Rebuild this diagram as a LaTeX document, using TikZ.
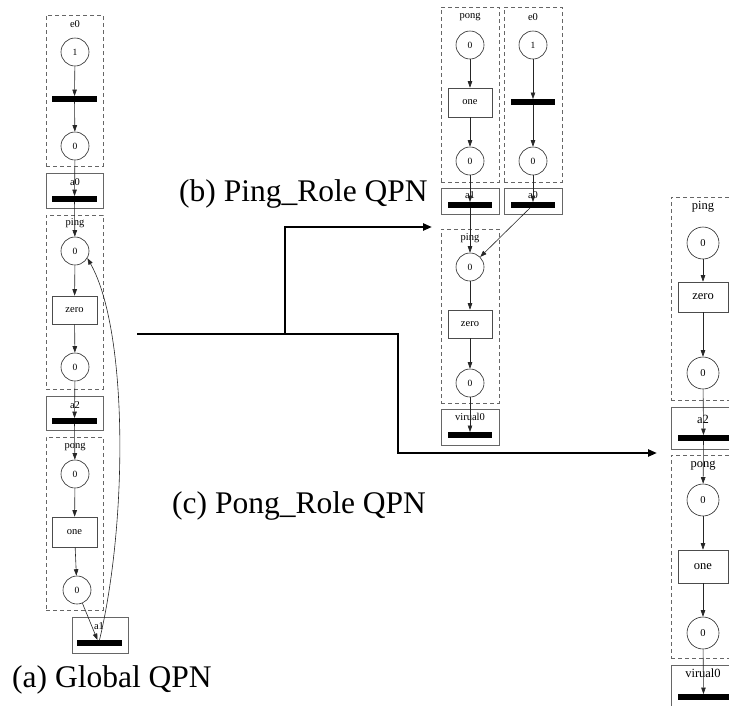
\documentclass[tikz,border=0pt]{standalone}
\usepackage{fontspec}
\setmainfont{Liberation Serif}
\usetikzlibrary{arrows.meta}
\begin{document}
\begin{tikzpicture}[x=1pt,y=-1pt,
 plc/.style={circle,draw=black!85,line width=0.6pt,minimum size=28pt,inner sep=0pt,font=\fontsize{9.5}{9.5}\selectfont},
 bplc/.style={plc,minimum size=32pt,font=\fontsize{10.5}{10.5}\selectfont},
 trn/.style={rectangle,draw=black!70,line width=0.6pt,minimum width=45pt,minimum height=29pt,inner sep=0pt,font=\fontsize{10.5}{10.5}\selectfont},
 trntwo/.style={trn,minimum width=50pt,font=\fontsize{12.5}{12.5}\selectfont},
 tbar/.style={rectangle,fill=black,minimum width=45pt,minimum height=5.5pt,inner sep=0pt},
 grp/.style={rectangle,draw=black!60,dash pattern=on 4pt off 3pt,line width=0.6pt,inner sep=0pt},
 cont/.style={rectangle,draw=black!60,line width=0.7pt,inner sep=0pt},
 lbl/.style={inner sep=0pt,font=\fontsize{10.5}{10.5}\selectfont},
 lbltwo/.style={inner sep=0pt,font=\fontsize{12.5}{12.5}\selectfont},
 pnarrow/.style={draw=black!85,line width=0.6pt,-{Triangle[length=6.5pt,width=4.5pt]}},
 flow/.style={line width=2.6pt,line join=miter,-{Triangle[length=9pt,width=7pt]}},
 title/.style={anchor=base west,inner sep=0pt,font=\fontsize{31.5}{31.5}\selectfont}
]
\useasboundingbox (0,0) rectangle (729,705);
\clip (0,0) rectangle (729,705);

% ---------------- (a) Global QPN ----------------
\node[grp,minimum width=57,minimum height=151] (ae0) at (74.5,90.5) {};
\node[lbl] (ae0l) at (75,24) {e0};
\node[plc] (a1p) at (75,52) {1};
\node[tbar] (at0) at (74.5,99) {};
\node[plc] (a2p) at (75,146) {0};
\node[cont,minimum width=57,minimum height=35] (aa0) at (74.5,190.5) {};
\node[lbl] (aa0l) at (75,182) {a0};
\node[tbar] (aa0b) at (74.5,199) {};
\node[grp,minimum width=57,minimum height=174] (aping) at (74.5,302) {};
\node[lbl] (apingl) at (75,223) {ping};
\node[plc] (ap1) at (75,251) {0};
\node[trn,minimum height=28] (azero) at (74.5,310) {zero};
\node[plc] (ap2) at (75,367) {0};
\node[cont,minimum width=57,minimum height=34] (aa2) at (74.5,413) {};
\node[lbl] (aa2l) at (75,405) {a2};
\node[tbar] (aa2b) at (74.5,421) {};
\node[grp,minimum width=57,minimum height=173] (apong) at (74.5,523.5) {};
\node[lbl] (apongl) at (75,447) {pong};
\node[plc] (aq1) at (75,474) {0};
\node[trn,minimum height=30] (aone) at (74.5,532) {one};
\node[plc] (aq2) at (77,590) {0};
\node[cont,minimum width=56,minimum height=36] (aa1) at (100,635) {};
\node[lbl] (aa1l) at (99,626) {a1};
\node[tbar] (aa1b) at (99.5,643) {};

\draw[pnarrow] (a1p) -- (at0);
\draw[pnarrow] (at0) -- (a2p);
\draw[pnarrow] (a2p) -- (aa0b);
\draw[pnarrow] (aa0b) -- (ap1);
\draw[pnarrow] (ap1) -- (azero);
\draw[pnarrow] (azero) -- (ap2);
\draw[pnarrow] (ap2) -- (aa2b);
\draw[pnarrow] (aa2b) -- (aq1);
\draw[pnarrow] (aq1) -- (aone);
\draw[pnarrow] (aone) -- (aq2);
\draw[pnarrow] (aq2) -- ([xshift=-2pt]aa1b.north);
\draw[pnarrow] (aa1b.north) .. controls (128,520) and (128,330) .. (ap1.-30);

% ---------------- (b) Ping_Role QPN ----------------
\node[grp,minimum width=58,minimum height=175] (bpong) at (470,94.5) {};
\node[lbl] (bpongl) at (470,17) {pong};
\node[plc] (bq1) at (470,45) {0};
\node[trn,minimum width=44,minimum height=29] (bone) at (470,102.5) {one};
\node[plc] (bq2) at (470,161) {0};
\node[grp,minimum width=58,minimum height=175] (be0) at (533,94.5) {};
\node[lbl] (be0l) at (533,17) {e0};
\node[plc] (be1) at (533,45) {1};
\node[tbar,minimum width=44] (bt0) at (533,102) {};
\node[plc] (be2) at (533,161) {0};
\node[cont,minimum width=58,minimum height=26] (ba1) at (470,201) {};
\node[lbl] (ba1l) at (470,195) {a1};
\node[tbar,minimum width=44] (ba1b) at (470,205) {};
\node[cont,minimum width=58,minimum height=26] (ba0) at (533,201) {};
\node[lbl] (ba0l) at (533,195) {a0};
\node[tbar,minimum width=44] (ba0b) at (533,205) {};
\node[grp,minimum width=58,minimum height=174] (bping) at (470,316) {};
\node[lbl] (bpingl) at (470,238) {ping};
\node[plc] (bp1) at (470,267) {0};
\node[trn,minimum width=44,minimum height=28] (bzero) at (470,324) {zero};
\node[plc] (bp2) at (470,383) {0};
\node[cont,minimum width=58,minimum height=36] (bv) at (470,427) {};
\node[lbl] (bvl) at (470,417) {virual0};
\node[tbar,minimum width=44] (bvb) at (470,435) {};

\draw[pnarrow] (bq1) -- (bone);
\draw[pnarrow] (bone) -- (bq2);
\draw[pnarrow] (bq2) -- (ba1b);
\draw[pnarrow] (ba1b) -- (bp1);
\draw[pnarrow] (be1) -- (bt0);
\draw[pnarrow] (bt0) -- (be2);
\draw[pnarrow] (be2) -- (ba0b);
\draw[pnarrow] (ba0b) -- (bp1);
\draw[pnarrow] (bp1) -- (bzero);
\draw[pnarrow] (bzero) -- (bp2);
\draw[pnarrow] (bp2) -- (bvb);

% ---------------- (c) Pong_Role QPN ----------------
\node[grp,minimum width=64,minimum height=203] (cping) at (703,298.5) {};
\node[lbltwo] (cpingl) at (703,207) {ping};
\node[bplc] (cp1) at (703,243) {0};
\node[trntwo,minimum height=30] (czero) at (703,297) {zero};
\node[bplc] (cp2) at (703,373) {0};
\node[cont,minimum width=64,minimum height=42] (ca2) at (703,428) {};
\node[lbltwo] (ca2l) at (703,419) {a2};
\node[tbar,minimum width=51] (ca2b) at (703.5,438) {};
\node[grp,minimum width=64,minimum height=203] (cpong) at (703,556.5) {};
\node[lbltwo] (cpongl) at (703,466) {pong};
\node[bplc] (cq1) at (703,500) {0};
\node[trntwo,minimum height=33] (cone) at (703,566.5) {one};
\node[bplc] (cq2) at (703,633) {0};
\node[cont,minimum width=64,minimum height=50] (cv) at (703,690) {};
\node[lbltwo] (cvl) at (703,673) {virual0};
\node[tbar,minimum width=51] (cvb) at (703.5,697) {};

\draw[pnarrow] (cp1) -- (czero);
\draw[pnarrow] (czero) -- (cp2);
\draw[pnarrow] (cp2) -- (ca2b);
\draw[pnarrow] (ca2b) -- (cq1);
\draw[pnarrow] (cq1) -- (cone);
\draw[pnarrow] (cone) -- (cq2);
\draw[pnarrow] (cq2) -- (cvb);

% ---------------- connectors ----------------
\coordinate (fs) at (137,334);
\coordinate (fj1) at (285,334);
\coordinate (fj2) at (398,334);
\coordinate (fb) at (432,227);
\coordinate (fc) at (657,453);
\draw[flow] (fs) -- (fj2) |- (fc);
\draw[flow] (fj1) |- (fb);

% ---------------- titles ----------------
\node[title] (ta) at (12,687) {(a) Global QPN};
\node[title] (tb) at (179,201) {(b) Ping\_Role QPN};
\node[title] (tc) at (172,513) {(c) Pong\_Role QPN};
\end{tikzpicture}
\end{document}
